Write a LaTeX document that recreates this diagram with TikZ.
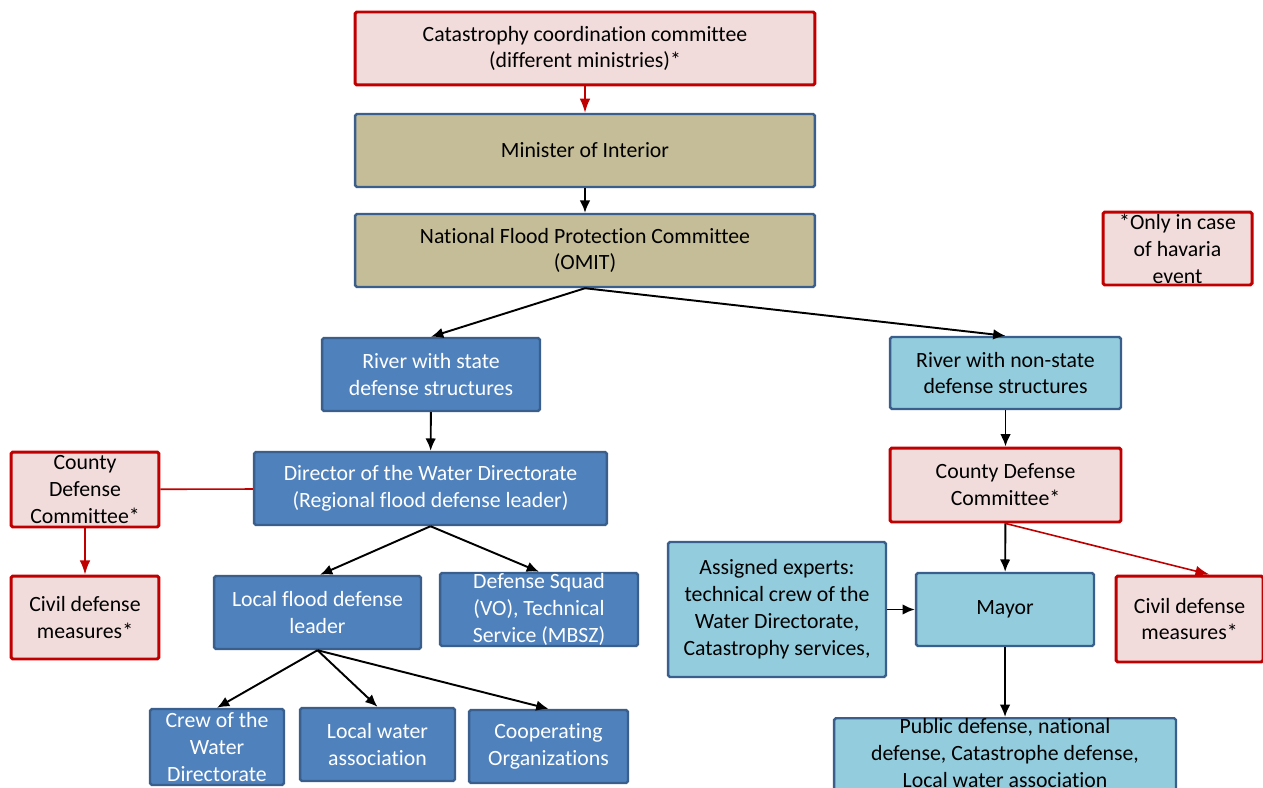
\documentclass[tikz,border=0pt]{standalone}
\usepackage{fontspec}
\setmainfont{Carlito}[Ligatures=CommonOff]
\usetikzlibrary{arrows.meta}
\definecolor{redline}{HTML}{C00000}
\definecolor{pinkfill}{HTML}{F2DCDB}
\definecolor{khaki}{HTML}{C4BD97}
\definecolor{blueline}{HTML}{3A5F8C}
\definecolor{darkblue}{HTML}{4F81BD}
\definecolor{lightblue}{HTML}{93CDDD}

\begin{document}
\begin{tikzpicture}[x=0.02cm, y=-0.02cm,
    every node/.style={align=center, inner sep=0pt, rounded corners=1pt,
        font=\fontsize{12.4}{15.3}\selectfont},
    redbox/.style={draw=redline, fill=pinkfill, line width=1.7pt},
    khakibox/.style={draw=blueline, fill=khaki, line width=1.4pt},
    bluebox/.style={draw=blueline, fill=darkblue, text=white, line width=1.4pt},
    lightbox/.style={draw=blueline, fill=lightblue, line width=1.4pt},
    blackarrow/.style={-{Latex[length=7pt,width=6pt]}, line width=1.1pt},
    redarrow/.style={-{Latex[length=8pt,width=6pt]}, draw=redline, line width=0.9pt}]
                \useasboundingbox (0,0) rectangle (1263,787);
                \clip (0,0) rectangle (1263,787);

                % top of the chain
                \node[redbox, minimum width=9.2cm, minimum height=1.46cm] (catastrophy) at (585,48.5)
                    {Catastrophy coordination committee\\(different ministries)*};
                \node[khakibox, minimum width=9.2cm, minimum height=1.46cm] (minister) at (585,150.5)
                    {Minister of Interior};
                \node[khakibox, minimum width=9.2cm, minimum height=1.46cm] (omit) at (585,250.5)
                    {National Flood Protection Committee\\(OMIT)};
                \node[redbox, minimum width=2.98cm, minimum height=1.46cm] (note) at (1177.5,248.5)
                    {*Only in case\\of havaria\\event};

                % state rivers
                \node[bluebox, minimum width=4.36cm, minimum height=1.46cm] (stateriver) at (431,374.5)
                    {River with state\\defense structures};
                \node[bluebox, minimum width=7.06cm, minimum height=1.46cm] (director) at (430.5,488.5)
                    {Director of the Water Directorate\\(Regional flood defense leader)};
                \node[redbox, minimum width=2.96cm, minimum height=1.5cm] (countyleft) at (85,489.5)
                    {County\\Defense\\Committee*};
                \node[redbox, minimum width=2.96cm, minimum height=1.66cm] (civilleft) at (85,617.5)
                    {Civil defense\\measures*};
                \node[bluebox, minimum width=4.14cm, minimum height=1.46cm] (localleader) at (317.5,612.5)
                    {Local flood defense\\leader};
                \node[bluebox, minimum width=3.96cm, minimum height=1.46cm] (squad) at (539,609.5)
                    {Defense Squad\\(VO), Technical\\Service (MBSZ)};
                \node[bluebox, minimum width=2.68cm, minimum height=1.52cm] (crew) at (217,747)
                    {Crew of the\\Water\\Directorate};
                \node[bluebox, minimum width=3.1cm, minimum height=1.46cm] (waterassoc) at (377.5,744.5)
                    {Local water\\association};
                \node[bluebox, minimum width=3.18cm, minimum height=1.46cm] (cooperating) at (548.5,746.5)
                    {Cooperating\\Organizations};

                % non-state rivers
                \node[lightbox, minimum width=4.62cm, minimum height=1.44cm] (nonstate) at (1005.5,373)
                    {River with non-state\\defense structures};
                \node[redbox, minimum width=4.62cm, minimum height=1.48cm] (countyright) at (1005.5,485)
                    {County Defense\\Committee*};
                \node[lightbox, minimum width=4.36cm, minimum height=2.7cm] (experts) at (777,609.5)
                    {Assigned experts:\\technical crew of the\\Water Directorate,\\Catastrophy services,};
                \node[lightbox, minimum width=3.56cm, minimum height=1.46cm] (mayor) at (1005,609.5)
                    {Mayor};
                \node[redbox, minimum width=2.94cm, minimum height=1.72cm] (civilright) at (1189.5,619)
                    {Civil defense\\measures*};
                \node[lightbox, minimum width=6.84cm, minimum height=1.86cm, anchor=north] (public) at (1005,717)
                    {Public defense, national\\defense, Catastrophe defense,\\Local water association\\[4pt]};

                % connectors
                \draw[redarrow] (catastrophy) -- (minister);
                \draw[blackarrow] (minister) -- (omit);
                \draw[blackarrow] (omit.south) -- (stateriver.north);
                \draw[blackarrow] (omit.south) -- (nonstate.north);
                \draw[blackarrow] (stateriver) -- (director);
                \draw[redline, line width=0.9pt] (director) -- (countyleft);
                \draw[redarrow] (countyleft) -- (civilleft);
                \draw[blackarrow] (director.south) -- ([xshift=0.05cm]localleader.north);
                \draw[blackarrow] (director.south) -- (squad.north);
                \draw[blackarrow] (localleader.south) -- (crew.north);
                \draw[blackarrow] (localleader.south) -- (waterassoc.north);
                \draw[blackarrow] (localleader.south) -- (cooperating.north);
                \draw[blackarrow] (nonstate) -- (countyright);
                \draw[blackarrow] (countyright) -- (mayor);
                \draw[redarrow] (countyright.south) -- ([xshift=0.4cm]civilright.north);
                \draw[blackarrow] (experts) -- (mayor);
                \draw[blackarrow] (mayor) -- (public);
            \end{tikzpicture}
\end{document}
